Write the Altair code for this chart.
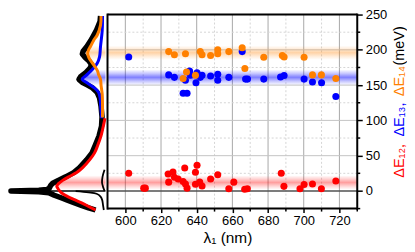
import altair as alt
import pandas as pd

RED, BLUE, ORANGE = "#ff0000", "#0000ff", "#ff8000"
FONT = "Liberation Sans"

# ---------------- scatter data (lambda_1 in nm, energy in meV) ----------------
red_x = [601.9, 610.3, 611.2, 624.0, 624.3, 626.7, 627.5, 629.6, 632.4, 633.3, 633.7, 634.6,
         639.3, 640.2, 639.3, 641.7, 643.0, 647.8, 651.8, 658.0, 660.8, 666.9, 668.4,
         687.4, 688.9, 697.9, 700.2, 704.9, 709.9, 718.0]
red_y = [25, 4, 4, 24, 12.5, 27, 19.5, 17, 13.5, 32.5, 10, 4,
         26.5, 36.5, 9.5, 12.5, 7, 17, 23, 3, 12.5, 2.5, 3,
         25, 6.5, 3, 9, 10, 3, 14]

blue_x = [601.9, 624.3, 627.5, 633.7, 636.0, 636.5, 640.2, 639.6, 642.0, 643.0, 647.8, 651.8,
          651.8, 658.0, 665.5, 667.4, 668.5, 677.6, 687.0, 689.0, 700.2, 704.9, 710.0, 718.0,
          632.4, 634.6]
blue_y = [190, 164.5, 161, 157, 170, 164, 167.5, 153.5, 161, 164, 163, 165.5,
          157, 161, 197.5, 158.5, 158.5, 158.5, 161.5, 163.5, 158.5, 154.5, 153.5, 134,
          138.5, 138.5]

orange_x = [624.3, 627.5, 633.7, 642.0, 643.0, 647.8, 651.8, 651.8, 658.0, 665.5, 677.6,
            688.0, 689.0, 700.2, 667.0, 634.3, 632.4, 639.3, 704.9, 709.9, 718.0]
orange_y = [197.5, 193, 194.5, 197.5, 193, 192, 200, 194.5, 197.5, 203, 189.5,
            192, 190, 189.5, 173.5, 168.5, 159.5, 164, 164.5, 164.5, 159.5]

# ---------------- band (mean +- spread) ----------------
band_center = [12, 161, 196]
band_half = [10, 11, 10]
band_rgb = [(255, 0, 0), (0, 0, 255), (255, 128, 0)]
band_alpha = [0.38, 0.5, 0.35]

# ---------------- distributions in left panel (energy meV, density) ----------------
black_E = [248, 240, 228, 215, 205, 198, 194, 190, 184, 179, 174, 168, 162, 158, 154, 150,
           146, 140, 132, 120, 105, 92, 78, 64, 54, 44, 33, 26, 20, 15, 11, 8, 4, 2, 1, 0.4,
           0, -0.4, -1, -2.5, -6, -10, -13, -17, -20, -24, -27]
black_d = [5, 5.5, 9, 14, 18.5, 22.5, 23.3, 21, 16.5, 14, 15.5, 19.5, 25, 26.7, 23.5, 18,
           13, 8.5, 6, 4.5, 3.5, 4, 6.5, 10.5, 13.5, 19, 26, 32, 40, 47.5, 53, 55, 56.5, 59, 67, 85,
           95, 85, 67, 57, 51.5, 44, 38.3, 31, 25, 17, 10]

thinB_E = [-0.3, -2, -4, -8, -13, -20, -27]
thinB_d = [30, 17, 9, 5, 3.3, 2.5, 1.7]
thinC_E = [30, 20, 12, 6, 2, 0]
thinC_d = [1, 3, 3.5, 2.5, 1.5, 1]

red_E = [103, 90, 78, 64, 54, 44, 33, 26, 20, 15, 10, 7, 4, 0, -4, -8, -12, -17, -22, -27]
red_d = [0.5, 2.5, 4.5, 8, 11, 16, 23, 29, 37, 43, 47.5, 49, 48, 46, 43, 38, 32, 24, 17, 10]

blue_E = [248, 228, 205, 190, 181, 172, 167, 163, 158.5, 153, 147, 140, 132, 123, 110, 103]
blue_d = [3, 3.3, 5, 6, 8.3, 13.3, 17, 20, 23.5, 18.3, 12, 7, 5.5, 5, 4.3, 4]

orange_E = [248, 235, 221, 214, 205, 200, 195, 190, 186, 177, 170, 165, 158, 150, 137, 120, 104]
orange_d = [4.5, 5, 8.3, 11.7, 15, 17, 18, 17, 15.5, 11, 8, 7, 5, 4.5, 3.3, 3, 3]

x_major = [600, 620, 640, 660, 680, 700, 720]
x_minor = [610, 630, 650, 670, 690, 710, 730]
y_major = [0, 50, 100, 150, 200, 250]
y_minor = [-25, 25, 75, 125, 175, 225]

W, H, LW = 251, 195, 99

xs = alt.Scale(domain=[590, 730], nice=False, zero=False)
ys = alt.Scale(domain=[-25, 250], nice=False, zero=False)
ds = alt.Scale(domain=[-2, 97], reverse=True, nice=False, zero=False)

xaxis = alt.Axis(values=x_major, orient="bottom", domain=False, grid=False, tickSize=4,
                 tickWidth=1.5, tickColor="black", labelFontSize=13, labelFont=FONT,
                 labelColor="black", labelPadding=2, title=None)
yaxis = alt.Axis(values=y_major, orient="right", domain=False, grid=False, tickSize=5,
                 tickWidth=1.5, tickColor="black", labelFontSize=13, labelFont=FONT,
                 labelColor="black", labelPadding=3, title=None)


def X(f):
    return alt.X(f, type="quantitative", scale=xs, axis=xaxis)


def Y(f):
    return alt.Y(f, type="quantitative", scale=ys, axis=yaxis)


def rgba(rgb, a):
    return "rgba(%d,%d,%d,%.3f)" % (rgb[0], rgb[1], rgb[2], a)


def grad(rgb, a, offs):
    # offs: offsets of (top edge, mid-top, center, mid-bottom, bottom edge)
    alphas = [0, 0.45 * a, a, 0.45 * a, 0]
    stops = [alt.GradientStop(color=rgba(rgb, 0), offset=0)]
    for o, al in zip(offs, alphas):
        stops.append(alt.GradientStop(color=rgba(rgb, al), offset=max(0, min(1, o))))
    stops.append(alt.GradientStop(color=rgba(rgb, 0), offset=1))
    return alt.LinearGradient(gradient="linear", stops=stops, x1=0, x2=0, y1=0, y2=1)


def df(**kw):
    return pd.DataFrame(kw)


# ---------------- right panel ----------------
layers = []
layers.append(alt.Chart(df(v=[610, 630, 650, 670, 690, 710])).mark_rule(
    color="#d5d5d5", strokeWidth=1, strokeDash=[2, 2]).encode(x=X("v")))
layers.append(alt.Chart(df(v=x_major)).mark_rule(color="#a8a8a8", strokeWidth=1).encode(x=X("v")))
layers.append(alt.Chart(df(v=[25, 75, 125, 175, 225])).mark_rule(
    color="#d5d5d5", strokeWidth=1, strokeDash=[2, 2]).encode(y=Y("v")))
layers.append(alt.Chart(df(v=[50, 100, 150, 200])).mark_rule(color="#c4c4c4", strokeWidth=1).encode(y=Y("v")))

for c, hw, rgb, a in zip(band_center, band_half, band_rgb, band_alpha):
    g = grad(rgb, a, [0, 0.25, 0.5, 0.75, 1.0])
    layers.append(alt.Chart(df(top=[c + hw], bot=[c - hw])).mark_rect(color=g).encode(
        x=alt.value(0), x2=alt.value(W), y=Y("top"), y2="bot"))

layers.append(alt.Chart(df(v=[0])).mark_rule(color="#505050", strokeWidth=1.5).encode(y=Y("v")))

for xv, yv, col in [(red_x, red_y, RED), (blue_x, blue_y, BLUE), (orange_x, orange_y, ORANGE)]:
    layers.append(alt.Chart(df(x=xv, y=yv)).mark_circle(size=50, opacity=1, color=col).encode(
        x=X("x"), y=Y("y")))

# minor ticks
layers.append(alt.Chart(df(v=x_minor)).mark_rule(color="black", strokeWidth=1.5).encode(
    x=X("v"), y=alt.value(H), y2=alt.value(H + 3)))
layers.append(alt.Chart(df(v=y_minor)).mark_rule(color="black", strokeWidth=1.5).encode(
    y=Y("v"), x=alt.value(W), x2=alt.value(W + 3)))

# frame
fr = alt.Chart(df(a=[0]))
layers.append(fr.mark_rule(color="black", strokeWidth=2).encode(x=alt.value(0), x2=alt.value(W), y=alt.value(0)))
layers.append(fr.mark_rule(color="black", strokeWidth=2).encode(x=alt.value(0), x2=alt.value(W), y=alt.value(H)))
layers.append(fr.mark_rule(color="black", strokeWidth=2).encode(x=alt.value(0), y=alt.value(-1), y2=alt.value(H + 1)))
layers.append(fr.mark_rule(color="black", strokeWidth=2).encode(x=alt.value(W), y=alt.value(-1), y2=alt.value(H + 1)))

# titles
title_parts = ["ΔE₁₂,", "ΔE₁₃,", "ΔE₁₄", "(meV)"]
title_colors = [RED, BLUE, ORANGE, "black"]
title_pos = [147, 105.5, 67, 31.5]
for t, col, yp in zip(title_parts, title_colors, title_pos):
    layers.append(alt.Chart(df(t=[t])).mark_text(
        angle=270, align="center", baseline="middle", fontSize=14.5, font=FONT, color=col).encode(
        text="t:N", x=alt.value(294), y=alt.value(yp)))
layers.append(alt.Chart(df(t=["λ₁ (nm)"])).mark_text(
    align="center", baseline="middle", fontSize=15.5, font=FONT, color="black").encode(
    text="t:N", x=alt.value(121), y=alt.value(224.5)))

right = alt.layer(*layers).properties(width=W, height=H)

# ---------------- left panel ----------------
def LX(f):
    return alt.X(f, type="quantitative", scale=ds, axis=None)


def LY(f):
    return alt.Y(f, type="quantitative", scale=ys, axis=None)


def curve_df(E, d):
    return df(E=E, d=d, i=list(range(len(E))))


left_layers = []
for (E, d), c, hw, rgb, a in zip([(red_E, red_d), (blue_E, blue_d), (orange_E, orange_d)],
                                  band_center, band_half, band_rgb, band_alpha):
    emax, emin = max(E), min(E)
    o = lambda e: (emax - e) / (emax - emin)
    offs = [o(c + hw), o(c + hw / 2), o(c), o(c - hw / 2), o(c - hw)]
    left_layers.append(alt.Chart(curve_df(E, d)).mark_area(
        orient="horizontal", color=grad(rgb, a, offs), interpolate="catmull-rom").encode(
        y=LY("E"), x=LX("d"), x2=alt.datum(0)))

left_layers.append(alt.Chart(curve_df(black_E, black_d)).mark_line(
    color="black", strokeWidth=5.5, interpolate="linear", strokeJoin="round").encode(
    y=LY("E"), x=LX("d"), order="i:Q"))
for E, d in [(thinB_E, thinB_d), (thinC_E, thinC_d)]:
    left_layers.append(alt.Chart(curve_df(E, d)).mark_line(
        color="black", strokeWidth=1.8, interpolate="catmull-rom").encode(
        y=LY("E"), x=LX("d"), order="i:Q"))
left_layers.append(alt.Chart(df(E=[0, 0], d=[0, 90], i=[0, 1])).mark_line(
    color="black", strokeWidth=1.5).encode(y=LY("E"), x=LX("d"), order="i:Q"))
for E, d, col in [(red_E, red_d, RED), (blue_E, blue_d, BLUE), (orange_E, orange_d, ORANGE)]:
    left_layers.append(alt.Chart(curve_df(E, d)).mark_line(
        color=col, strokeWidth=3, interpolate="catmull-rom").encode(
        y=LY("E"), x=LX("d"), order="i:Q"))

left = alt.layer(*left_layers).properties(width=LW, height=H)

chart = alt.hconcat(left, right, spacing=0, bounds="flush").properties(
    padding={"top": 0, "left": 0, "right": 0, "bottom": 0}
).configure_view(stroke=None)

chart.save("out.html", embed_options={"renderer": "svg", "actions": False})
